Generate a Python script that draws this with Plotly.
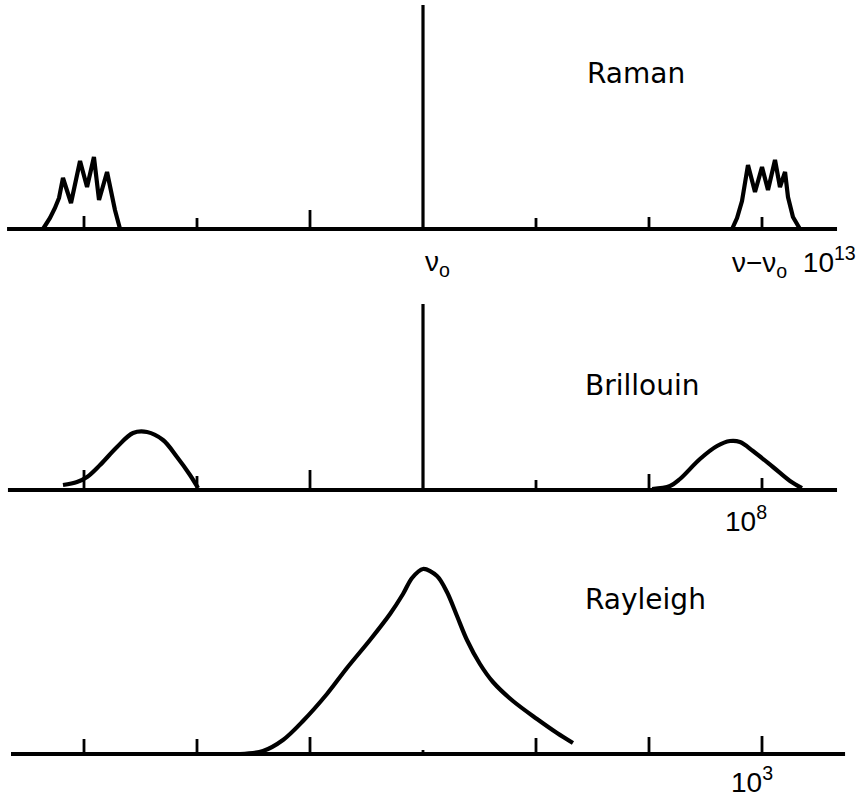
import plotly.graph_objects as go

# ---- data (x in tick units, 0 = nu0; heights in arbitrary intensity units) ----
tick_pos = [-3, -2, -1, 0, 1, 2, 3]

raman_left_x = [-3.363, -3.301, -3.257, -3.221, -3.186, -3.115, -3.035, -2.973, -2.912, -2.867, -2.796, -2.770, -2.726, -2.681]
raman_left_y = [0, 11, 21, 31, 51, 26, 68, 42, 72, 29, 57, 42, 19, 0]
raman_right_x = [2.735, 2.779, 2.823, 2.858, 2.876, 2.938, 3.000, 3.053, 3.115, 3.159, 3.204, 3.230, 3.274, 3.336]
raman_right_y = [0, 11, 28, 52, 64, 37, 62, 39, 69, 42, 57, 32, 12, 0]
raman_line_h = 224
raman_tick_pos = [-3, -2, -1, 1, 2, 3]
raman_tick_h = [13, 11, 19, 11, 12, 12]

bril_left_x = [-3.186, -3.062, -2.973, -2.858, -2.708, -2.566, -2.442, -2.301, -2.177, -2.062, -1.991]
bril_left_y = [5, 8, 13, 25, 43, 57, 58, 50, 33, 15, 2]
bril_right_x = [2.027, 2.186, 2.274, 2.451, 2.602, 2.717, 2.805, 2.920, 3.097, 3.248, 3.354]
bril_right_y = [1, 4, 11, 31, 44, 49, 48, 39, 23, 9, 2]
bril_line_h = 186
bril_tick_pos = [-3, -2, -1, 1, 2, 3]
bril_tick_h = [20, 14, 20, 10, 16, 12]

rayl_x = [-1.619, -1.416, -1.239, -1.062, -0.850, -0.673, -0.469, -0.292, -0.177, -0.097, 0.0,
          0.124, 0.212, 0.301, 0.389, 0.504, 0.619, 0.796, 1.009, 1.186, 1.327]
rayl_y = [0, 3, 14, 33, 60, 86, 114, 140, 160, 176, 185,
          178, 162, 138, 114, 90, 72, 53, 35, 21, 11]
rayl_tick_pos = [-3, -2, -1, 0, 1, 2, 3]
rayl_tick_h = [15, 15, 17, 4, 16, 17, 18]

axis_span = {"raman": (-3.681, 3.664), "bril": (-3.673, 3.664), "rayl": (-3.646, 3.735)}

panel_labels = ["Raman", "Brillouin", "Rayleigh"]
unit_labels = ["ν−ν<sub>o</sub>\u00a0\u00a010<sup>13</sup>", "10<sup>8</sup>", "10<sup>3</sup>"]
center_label = "ν<sub>o</sub>"

# ---- figure ----
W, H = 859, 798
fig = go.Figure()
BLACK = "#000000"


def add_line(x, y, ya, width=4.0, shape="linear", smoothing=1.0):
    fig.add_trace(go.Scatter(x=x, y=y, mode="lines", yaxis=ya, hoverinfo="skip",
                             line=dict(color=BLACK, width=width, shape=shape, smoothing=smoothing)))


def add_ticks(pos, hts, ya):
    xs, ys = [], []
    for p, h in zip(pos, hts):
        xs += [p, p, None]
        ys += [0, h, None]
    fig.add_trace(go.Scatter(x=xs, y=ys, mode="lines", yaxis=ya, hoverinfo="skip",
                             line=dict(color=BLACK, width=2.8)))


# Raman (y)
add_line(list(axis_span["raman"]), [0, 0], "y", width=4.2)
add_ticks(raman_tick_pos, raman_tick_h, "y")
add_line([0, 0], [0, raman_line_h], "y", width=3.2)
add_line(raman_left_x, raman_left_y, "y", width=4.2)
add_line(raman_right_x, raman_right_y, "y", width=4.2)

# Brillouin (y2)
add_line(list(axis_span["bril"]), [0, 0], "y2", width=4.2)
add_ticks(bril_tick_pos, bril_tick_h, "y2")
add_line([0, 0], [0, bril_line_h], "y2", width=3.2)
add_line(bril_left_x, bril_left_y, "y2", width=4.2, shape="spline", smoothing=1.0)
add_line(bril_right_x, bril_right_y, "y2", width=4.2, shape="spline", smoothing=1.0)

# Rayleigh (y3)
add_line(list(axis_span["rayl"]), [0, 0], "y3", width=4.2)
add_ticks(rayl_tick_pos, rayl_tick_h, "y3")
add_line(rayl_x, rayl_y, "y3", width=4.2, shape="spline", smoothing=0.9)

# axes: 1 unit in x = 113 px, centre at px 423 ; 1 unit in y = 1 px
px0, unit = 423.0, 113.0
xr = [(0 - px0) / unit, (W - px0) / unit]


def yaxis_for(top_px, bot_px, base_px):
    dom = [1 - bot_px / H, 1 - top_px / H]
    rng = [base_px - bot_px, base_px - top_px]
    return dict(domain=dom, range=rng, visible=False, fixedrange=True)


font_lab = dict(family="DejaVu Sans, Liberation Sans, sans-serif", size=28, color=BLACK)
font_unit = dict(family="Liberation Sans, Arial, sans-serif", size=28, color=BLACK)

annotations = [
    dict(x=(585 - px0) / unit, y=156, xref="x", yref="y", text=panel_labels[0], showarrow=False,
         xanchor="left", yanchor="middle", font=font_lab),
    dict(x=(583 - px0) / unit, y=104, xref="x", yref="y2", text=panel_labels[1], showarrow=False,
         xanchor="left", yanchor="middle", font=font_lab),
    dict(x=(583 - px0) / unit, y=155, xref="x", yref="y3", text=panel_labels[2], showarrow=False,
         xanchor="left", yanchor="middle", font=font_lab),
    dict(x=(423 - px0) / unit, y=-34, xref="x", yref="y", text=center_label, showarrow=False,
         xanchor="left", yanchor="middle", font=font_unit),
    dict(x=(858 - px0) / unit, y=-33, xref="x", yref="y", text=unit_labels[0], showarrow=False,
         xanchor="right", yanchor="middle", font=font_unit),
    dict(x=(746 - px0) / unit, y=-29, xref="x", yref="y2", text=unit_labels[1], showarrow=False,
         xanchor="center", yanchor="middle", font=font_unit),
    dict(x=(752 - px0) / unit, y=-26, xref="x", yref="y3", text=unit_labels[2], showarrow=False,
         xanchor="center", yanchor="middle", font=font_unit),
]

fig.update_layout(
    width=W, height=H,
    margin=dict(l=0, r=0, t=0, b=0, pad=0),
    paper_bgcolor="white", plot_bgcolor="white",
    showlegend=False, hovermode=False,
    xaxis=dict(range=xr, domain=[0, 1], visible=False, fixedrange=True),
    yaxis=yaxis_for(0, 268, 229),
    yaxis2=yaxis_for(282, 535, 490),
    yaxis3=yaxis_for(540, 798, 754),
    annotations=annotations,
)

fig.write_html("out.html", config={"displayModeBar": False, "staticPlot": True},
               post_script="document.body.style.margin='0';")
